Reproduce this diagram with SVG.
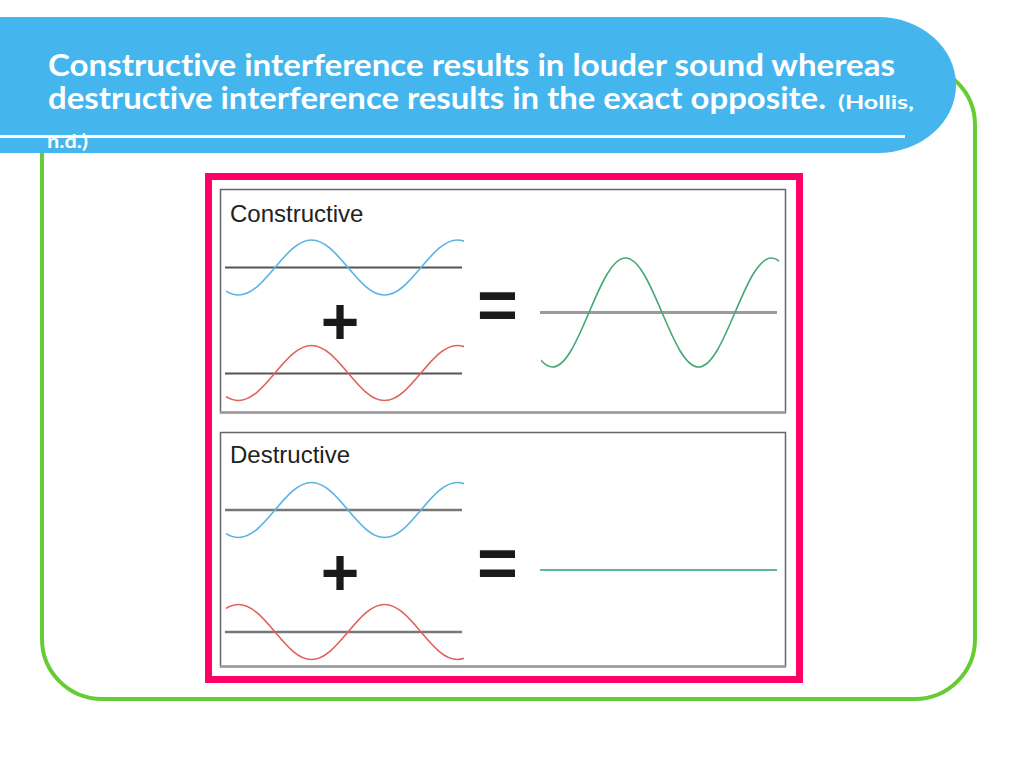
<svg xmlns="http://www.w3.org/2000/svg" xmlns:xlink="http://www.w3.org/1999/xlink" width="1024" height="768" viewBox="0 0 1024 768">
<style>
.hdr{font-family:Lato,"Open Sans","Liberation Sans",sans-serif;font-weight:bold;fill:#ffffff;font-variant-ligatures:none}
.lbl{font-family:"Liberation Sans",Arial,sans-serif;font-size:24px;fill:#222}
.sym{font-family:"Liberation Sans",Arial,sans-serif;fill:#1a1a1a;text-anchor:middle}
.axisL{stroke:#555;stroke-width:2}
.axisR{stroke:#9a9a9a;stroke-width:3}
.blue{fill:none;stroke:#5ab2e3;stroke-width:1.6}
.red{fill:none;stroke:#e0625e;stroke-width:1.6}
.green{fill:none;stroke:#45a874;stroke-width:1.6}
.panel{fill:#fff;stroke:#666;stroke-width:1.5}
</style>
<defs>
<path id="w1" d="M-73,0 C-61.1,14.09 -49.71,27.5 -36.5,27.5 S-11.9,14.09 0,0 S23.29,-27.5 36.5,-27.5 S61.1,-14.09 73,0 S96.29,27.5 109.5,27.5 S134.1,14.09 146,0 S169.29,-27.5 182.5,-27.5 S207.1,-14.09 219,0"/>
<path id="w2" d="M-73,0 C-61.1,27.92 -49.71,54.5 -36.5,54.5 S-11.9,27.92 0,0 S23.29,-54.5 36.5,-54.5 S61.1,-27.92 73,0 S96.29,54.5 109.5,54.5 S134.1,27.92 146,0 S169.29,-54.5 182.5,-54.5 S207.1,-27.92 219,0"/>
<clipPath id="cl" clipPathUnits="userSpaceOnUse"><rect x="226" y="180" width="238" height="500"/></clipPath>
<clipPath id="cr" clipPathUnits="userSpaceOnUse"><rect x="541" y="180" width="238" height="500"/></clipPath>
</defs>
<rect width="1024" height="768" fill="#fff"/>
<g id="frame">
<rect x="42" y="65" width="933" height="634" rx="60" ry="60" fill="none" stroke="#66cc33" stroke-width="4"/>
</g>
<g id="banner">
<rect x="-120" y="17" width="1076" height="136" rx="78" ry="68" fill="#45b5ee"/>
<line x1="0" y1="136.5" x2="905" y2="136.5" stroke="#fff" stroke-width="3"/>
<text class="hdr" x="48" y="76" font-size="30" textLength="847" lengthAdjust="spacingAndGlyphs">Constructive interference results in louder sound whereas</text>
<text class="hdr" x="48" y="109" font-size="30" textLength="778" lengthAdjust="spacingAndGlyphs">destructive interference results in the exact opposite.</text>
<text class="hdr" x="838" y="109" font-size="18" textLength="76" lengthAdjust="spacingAndGlyphs">(Hollis,</text>
<text class="hdr" x="47" y="148" font-size="18" textLength="41" lengthAdjust="spacingAndGlyphs">n.d.)</text>
</g>
<g id="figure">
<rect x="208.5" y="176.5" width="591" height="503" fill="#fff" stroke="#ff0066" stroke-width="7"/>
</g>
<g id="constructive">
<rect class="panel" x="220.5" y="189.5" width="565" height="223"/>
<line x1="220" y1="412.5" x2="786" y2="412.5" stroke="#9a9a9a" stroke-width="2.5"/>
<text class="lbl" x="230" y="222">Constructive</text>
<line class="axisL" x1="225" y1="267.5" x2="462" y2="267.5"/>
<line class="axisL" x1="225" y1="373.5" x2="462" y2="373.5"/>
<line class="axisR" x1="540" y1="312.5" x2="777" y2="312.5"/>
<g clip-path="url(#cl)">
<use xlink:href="#w1" class="blue" transform="translate(275,267.5)"/>
<use xlink:href="#w1" class="red" transform="translate(275,373)"/>
</g>
<g clip-path="url(#cr)">
<use xlink:href="#w2" class="green" transform="translate(589,312.5)"/>
</g>
<text class="sym" x="340" y="344" font-size="66" font-weight="bold">+</text>
<text class="sym" x="497.5" y="329" font-size="70" font-weight="bold">=</text>
</g>
<g id="destructive">
<rect class="panel" x="220.5" y="432.5" width="565" height="234"/>
<line x1="220" y1="666.5" x2="786" y2="666.5" stroke="#9a9a9a" stroke-width="2.5"/>
<text class="lbl" x="230" y="463">Destructive</text>
<line class="axisR" x1="225" y1="510" x2="462" y2="510" style="stroke:#777;stroke-width:2.5"/>
<line class="axisR" x1="225" y1="632" x2="462" y2="632" style="stroke:#777;stroke-width:2.5"/>
<g clip-path="url(#cl)">
<use xlink:href="#w1" class="blue" transform="translate(275,510)"/>
<use xlink:href="#w1" class="red" transform="translate(275,632) scale(1,-1)"/>
</g>
<line x1="540" y1="570" x2="777" y2="570" stroke="#5fb891" stroke-width="2"/>
<text class="sym" x="340" y="595" font-size="66" font-weight="bold">+</text>
<text class="sym" x="497.5" y="587" font-size="70" font-weight="bold">=</text>
</g>
</svg>
